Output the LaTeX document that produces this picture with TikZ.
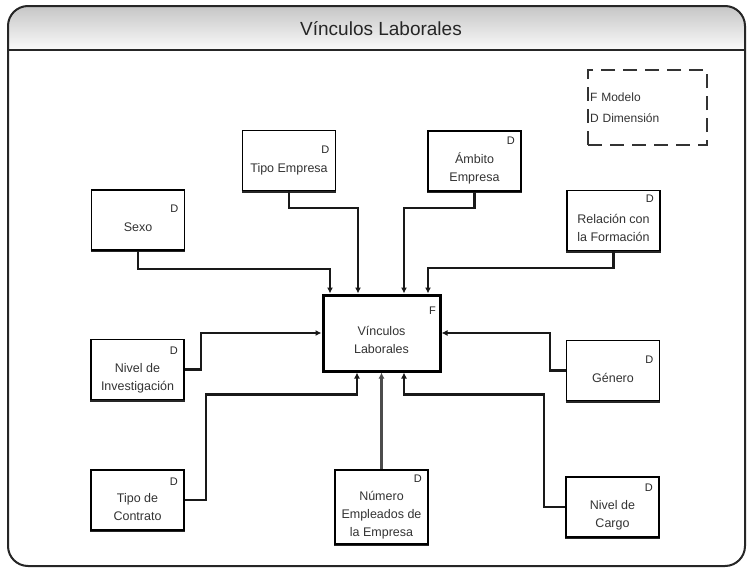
\documentclass[tikz,border=0pt]{standalone}
\usepackage{fontspec}
\setmainfont{Liberation Sans}
\usetikzlibrary{arrows.meta,calc}
\newcommand{\lowtxt}[1]{\raisebox{-8pt}[\height][\depth]{\begin{tabular}{@{}c@{}}#1\end{tabular}}}
\tikzset{
  dimbox/.style={draw=black, line width=1.6pt, fill=white, minimum width=93pt, minimum height=60pt,
    inner sep=2pt, font=\fontsize{12.5}{18}\selectfont, text=black!80,
    label={[anchor=center,xshift=-11pt,yshift=#1,font=\fontsize{11}{12}\selectfont,text=black!85]north east:D},
    append after command={\pgfextra{\draw[line width=3pt,black!85] (\tikzlastnode.south west) -- (\tikzlastnode.south east);}}},
  dimbox/.default=-20pt,
  factbox/.style={draw=black, line width=3pt, fill=white, minimum width=117pt, minimum height=76pt,
    inner sep=2pt, font=\fontsize{12.5}{18}\selectfont, text=black!80,
    label={[anchor=center,xshift=-9pt,yshift=-17pt,font=\fontsize{11}{12}\selectfont,text=black!85]north east:F}},
  conn/.style={line width=2.2pt, black!90, -{Latex[length=6pt,width=6pt]}},
  frame/.style={line width=2pt, black!85}
}
\begin{document}
\begin{tikzpicture}[x=1pt,y=-1pt]
\useasboundingbox (0,0) rectangle (748,570);
\fill[white] (0,0) rectangle (748,570);
% outer frame and title band
\begin{scope}
  \clip[rounded corners=20pt] (8,6) rectangle (745,566);
  \shade[top color=gray!45, bottom color=gray!4] (8,6) rectangle (745,50);
\end{scope}
\draw[frame] (8,50) -- (745,50);
\draw[frame, rounded corners=20pt] (8,6) rectangle (745,566);
\node[font=\fontsize{19}{21}\selectfont, text=black!85] (title) at (381,29) {Vínculos Laborales};

% legend
\node[draw=black!80, line width=2.6pt, dash pattern=on 14pt off 8pt, minimum width=119pt, minimum height=75pt,
  text width=115pt, inner sep=2pt, align=left, font=\fontsize{12}{19}\selectfont, text=black!80] (legend) at (647.5,107.5)
  {\raisebox{2pt}{F Modelo}\\D Dimensión};

% boxes
\node[dimbox] (sexo) at (138,220) {\lowtxt{Sexo}};
\node[dimbox] (tipoemp) at (289,160.5) {\lowtxt{Tipo Empresa}};
\node[dimbox=-11pt] (ambito) at (474.5,161) {\lowtxt{Ámbito\\Empresa}};
\node[dimbox=-9pt] (relacion) at (613.5,220.5) {\lowtxt{Relación con\\la Formación}};
\node[dimbox=-12pt] (nivinv) at (137.5,369.5) {\lowtxt{Nivel de\\Investigación}};
\node[factbox] (vinc) at (381.5,333) {\lowtxt{Vínculos\\Laborales}};
\node[dimbox] (genero) at (613,370.5) {\lowtxt{Género}};
\node[dimbox=-13pt] (tipocont) at (137.5,500) {\lowtxt{Tipo de\\Contrato}};
\node[dimbox=-10pt, minimum height=74pt] (numemp) at (381.5,507) {\lowtxt{Número\\Empleados de\\la Empresa}};
\node[dimbox=-12pt] (nivcargo) at (612.5,507) {\lowtxt{Nivel de\\Cargo}};

% connectors
\draw[conn] (sexo.south) -- ++(0,18) -| ([xshift=-51.5pt]vinc.north);
\draw[conn] (tipoemp.south) -- ++(0,17) -| ([xshift=-23.5pt]vinc.north);
\draw[conn] (ambito.south) -- ++(0,16) -| ([xshift=22.5pt]vinc.north);
\draw[conn] (relacion.south) -- ++(0,17) -| ([xshift=46.5pt]vinc.north);
\draw[conn] (nivinv.east) -- ++(16,0) |- (vinc.west);
\draw[conn] (genero.west) -- ++(-16,0) |- (vinc.east);
\draw[conn] (tipocont.east) -- ++(21,0) |- ([xshift=-24.5pt,yshift=-22pt]vinc.south) -- ([xshift=-24.5pt]vinc.south);
\draw[conn, line width=3pt, black!70] (numemp.north) -- (vinc.south);
\draw[conn] (nivcargo.west) -- ++(-21,0) |- ([xshift=22.5pt,yshift=-22pt]vinc.south) -- ([xshift=22.5pt]vinc.south);
\end{tikzpicture}
\end{document}
